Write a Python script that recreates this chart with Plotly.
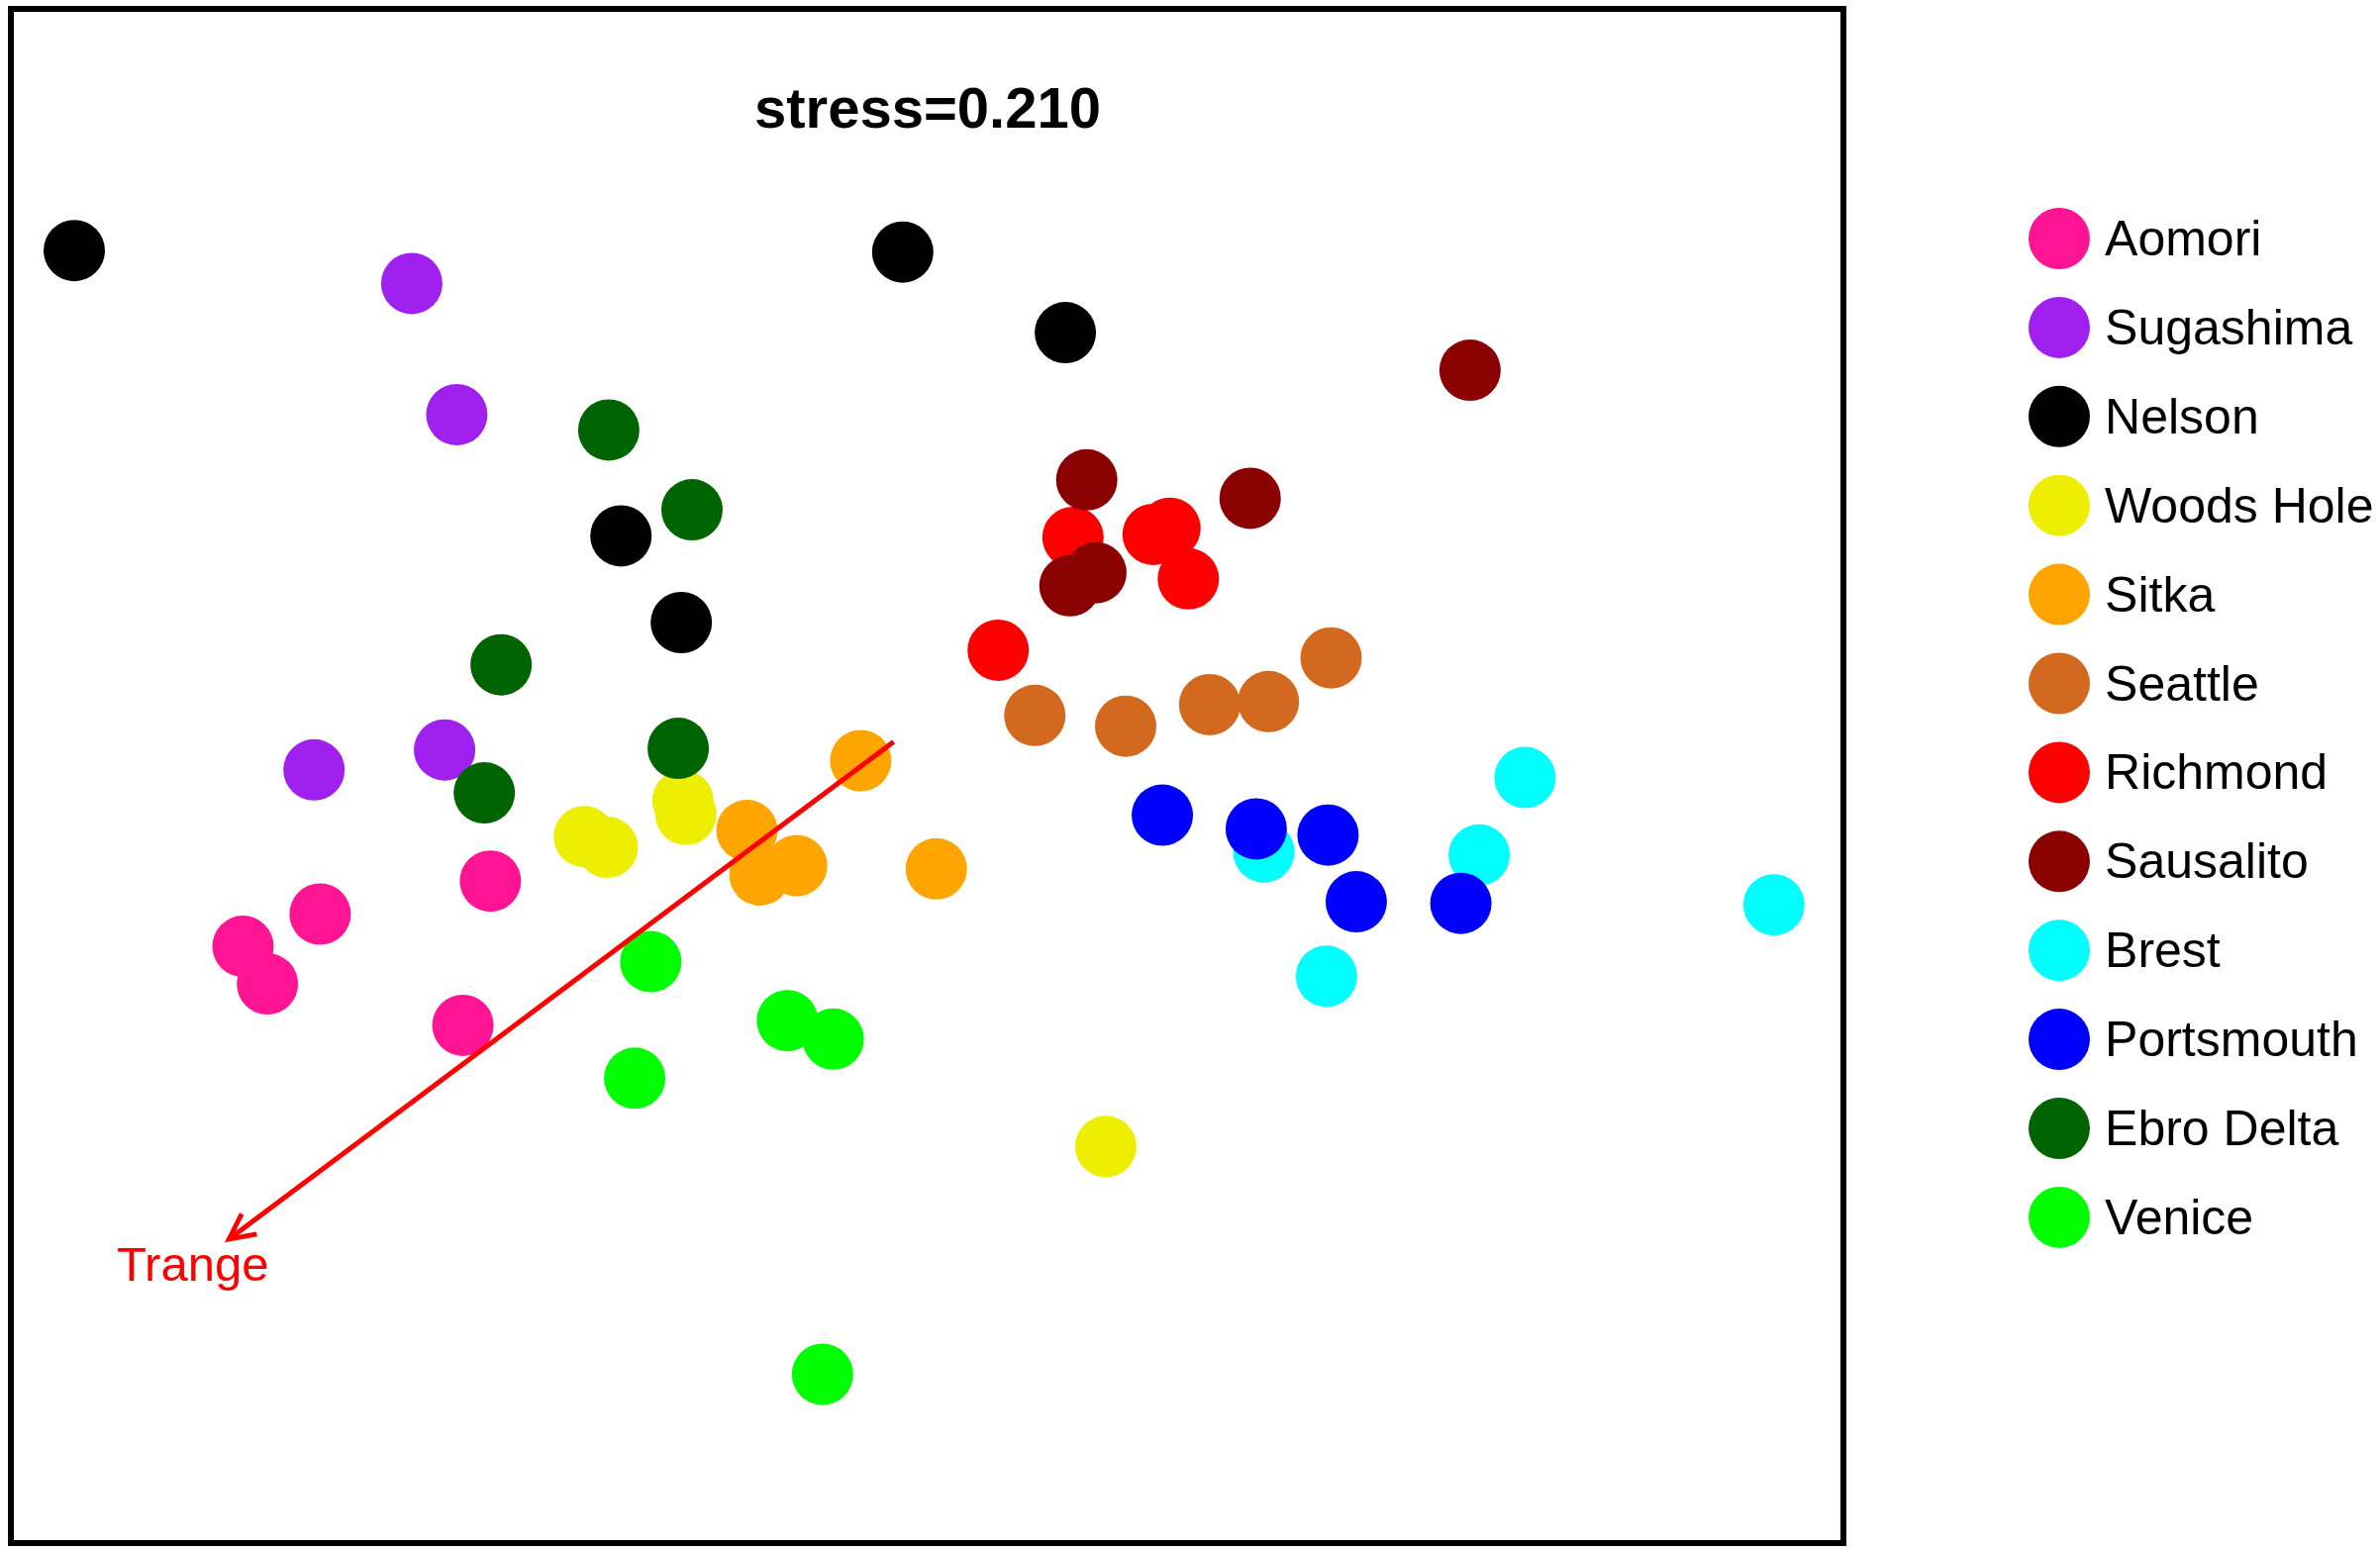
import plotly.graph_objects as go

# NMDS site scores per population (5 samples each)
sites = ["Aomori", "Sugashima", "Nelson", "Woods Hole", "Sitka", "Seattle",
         "Richmond", "Sausalito", "Brest", "Portsmouth", "Ebro Delta", "Venice"]

colors = ["#FF1493", "#A020F0", "#000000", "#EEEE00", "#FFA500", "#D2691E",
          "#FF0000", "#8B0000", "#00FFFF", "#0000FF", "#006400", "#00FF00"]

nmds1 = {
    "Aomori":     [-0.896, -0.864, -0.795, -0.572, -0.608],
    "Sugashima":  [-0.675, -0.616, -0.803, -0.632],
    "Nelson":     [-1.117, -0.032, 0.181, -0.401, -0.322],
    "Woods Hole": [-0.449, -0.419, -0.320, -0.316, 0.234],
    "Sitka":      [-0.087, -0.236, -0.219, -0.171, 0.012],
    "Seattle":    [0.141, 0.260, 0.370, 0.447, 0.529],
    "Richmond":   [0.093, 0.191, 0.296, 0.318, 0.342],
    "Sausalito":  [0.209, 0.423, 0.711, 0.187, 0.221],
    "Brest":      [0.441, 0.523, 0.723, 0.783, 1.109],
    "Portsmouth": [0.308, 0.431, 0.525, 0.562, 0.699],
    "Ebro Delta": [-0.417, -0.308, -0.558, -0.326, -0.580],
    "Venice":     [-0.362, -0.383, -0.183, -0.123, -0.137],
}

nmds2 = {
    "Aomori":     [-0.222, -0.271, -0.180, -0.137, -0.325],
    "Sugashima":  [0.642, 0.471, 0.008, 0.034],
    "Nelson":     [0.685, 0.683, 0.578, 0.313, 0.200],
    "Woods Hole": [-0.079, -0.093, -0.032, -0.050, -0.483],
    "Sitka":      [0.020, -0.071, -0.129, -0.117, -0.121],
    "Seattle":    [0.079, 0.065, 0.093, 0.097, 0.154],
    "Richmond":   [0.164, 0.311, 0.315, 0.323, 0.257],
    "Sausalito":  [0.386, 0.362, 0.529, 0.248, 0.265],
    "Brest":      [-0.099, -0.261, -0.103, -0.002, -0.168],
    "Portsmouth": [-0.051, -0.069, -0.077, -0.164, -0.166],
    "Ebro Delta": [0.451, 0.347, 0.145, 0.036, -0.022],
    "Venice":     [-0.242, -0.394, -0.319, -0.343, -0.780],
}

# environmental vector (fitted with envfit)
vec_name = "Trange"
vec_start = (-0.042, 0.046)
vec_end = (-0.920, -0.608)
label_pos = (-0.962, -0.636)

stress = 0.210

W, H = 2404, 1565

fig = go.Figure()

for name, col in zip(sites, colors):
    fig.add_trace(go.Scatter(
        x=nmds1[name], y=nmds2[name], mode="markers", name=name,
        marker=dict(size=62, color=col, line=dict(width=0)),
        showlegend=False, xaxis="x", yaxis="y"))

# hand-built legend on its own axes (plotly caps legend symbol size)
rows = list(range(len(sites)))
fig.add_trace(go.Scatter(
    x=[0.198] * len(sites), y=rows, mode="markers",
    marker=dict(size=62, color=colors, line=dict(width=0)),
    showlegend=False, hoverinfo="skip", xaxis="x2", yaxis="y2"))
fig.add_trace(go.Scatter(
    x=[0.312] * len(sites), y=[r + 0.05 for r in rows], mode="text", text=sites,
    textposition="middle right",
    textfont=dict(family="Liberation Sans, Arial", size=50, color="black"),
    showlegend=False, hoverinfo="skip", xaxis="x2", yaxis="y2"))

# vector arrow
fig.add_annotation(
    x=vec_end[0], y=vec_end[1], ax=vec_start[0], ay=vec_start[1],
    xref="x", yref="y", axref="x", ayref="y",
    showarrow=True, arrowhead=5, arrowsize=1.0, arrowwidth=5,
    arrowcolor="#FF0000", text="")
fig.add_annotation(
    x=label_pos[0], y=label_pos[1], xref="x", yref="y", text=vec_name,
    showarrow=False, font=dict(family="Liberation Sans, Arial", size=49, color="#FF0000"))

fig.add_annotation(
    x=0.0, y=0.871, xref="x", yref="y", text="<b>stress=%.3f</b>" % stress,
    showarrow=False, font=dict(family="Liberation Sans, Arial", size=58, color="black"))

# box around the ordination panel
fig.add_shape(type="rect", xref="x domain", yref="y domain",
              x0=0, x1=1, y0=0, y1=1, line=dict(color="black", width=6),
              layer="above")

hidden = dict(showgrid=False, zeroline=False, showticklabels=False,
              ticks="", showline=False, fixedrange=True)

step = 89.9
fig.update_layout(
    width=W, height=H,
    margin=dict(l=0, r=0, t=0, b=0),
    paper_bgcolor="white", plot_bgcolor="white",
    xaxis=dict(domain=[11 / W, 1862 / W], range=[-1.2, 1.2], **hidden),
    yaxis=dict(domain=[6 / H, 1556 / H], range=[-1.0, 1.0], **hidden),
    xaxis2=dict(domain=[2000 / W, 1.0], range=[0, 1], anchor="y2", **hidden),
    yaxis2=dict(domain=[0, 1], range=[(H - 241) / step, -241 / step],
                anchor="x2", **hidden),
    showlegend=False,
)

fig.write_html("out.html", config={"displayModeBar": False},
               post_script="document.body.style.margin='0';"
                           "document.body.style.overflow='hidden';")
